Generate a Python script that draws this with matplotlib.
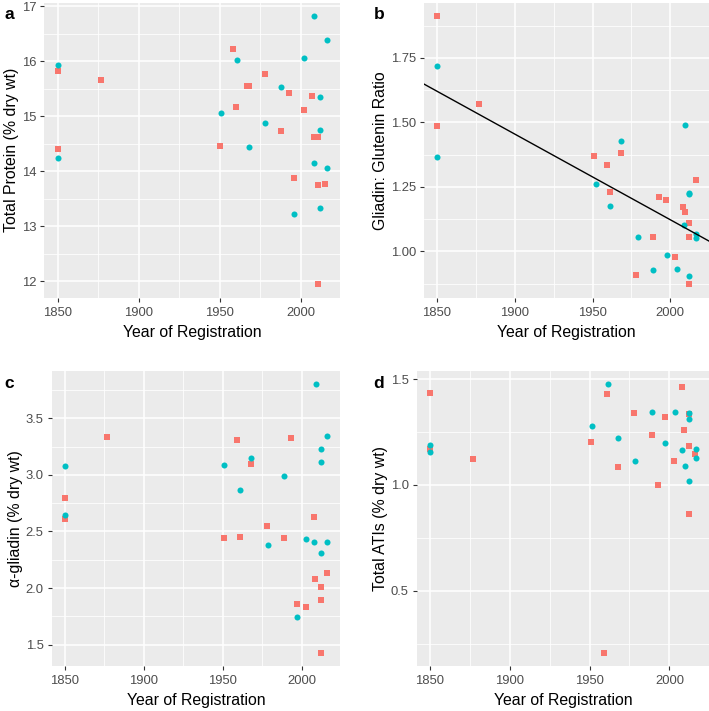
import numpy as np
import matplotlib
matplotlib.use("Agg")
import matplotlib.pyplot as plt

plt.rcParams["font.family"] = ["Liberation Sans", "DejaVu Sans"]

RED = "#F8766D"
CYAN = "#00BFC4"

# ---- panel a: total protein
a_red_year = [1850, 1850, 1877, 1950, 1958, 1960, 1967, 1968, 1978, 1988, 1993, 1996, 2002, 2007, 2008, 2011, 2011, 2015, 2011]
a_red_val = [15.82, 14.40, 15.66, 14.46, 16.23, 15.17, 15.55, 15.56, 15.78, 14.73, 15.42, 13.88, 15.11, 15.38, 14.62, 14.62, 13.75, 13.78, 11.95]
a_cyan_year = [1850, 1850, 1951, 1961, 1968, 1978, 1988, 1996, 2002, 2008, 2008, 2012, 2012, 2012, 2016, 2016]
a_cyan_val = [15.93, 14.25, 15.07, 16.03, 14.44, 14.89, 15.54, 13.23, 16.07, 16.82, 14.15, 15.36, 14.75, 13.33, 16.39, 14.07]

# ---- panel b: gliadin/glutenin ratio
b_red_year = [1850, 1850, 1877, 1951, 1959, 1968, 2016.5, 1961, 1993, 1997, 2008, 2009.5, 2012, 2012, 1989, 2003, 1978, 2012]
b_red_val = [1.911, 1.487, 1.570, 1.370, 1.333, 1.383, 1.278, 1.232, 1.210, 1.198, 1.173, 1.152, 1.110, 1.057, 1.057, 0.980, 0.910, 0.873]
b_cyan_year = [1850, 1850, 1968.5, 2009.5, 1952, 1961.5, 2012, 2012, 2008.5, 2016.5, 2016.5, 1979, 1998, 1989, 2004, 2012]
b_cyan_val = [1.720, 1.365, 1.428, 1.490, 1.260, 1.177, 1.224, 1.228, 1.103, 1.069, 1.053, 1.057, 0.986, 0.928, 0.932, 0.903]

# ---- panel c: alpha-gliadin
c_red_year = [1850, 1850, 1877, 1959, 1968, 1993, 2008, 1978, 1951, 1961, 1989, 2016, 2008.5, 2012, 2012, 1997, 2003, 2012]
c_red_val = [2.794, 2.612, 3.332, 3.306, 3.097, 3.330, 2.626, 2.544, 2.438, 2.450, 2.438, 2.135, 2.076, 2.006, 1.897, 1.858, 1.829, 1.429]
c_cyan_year = [1850, 1850, 1951, 1961, 1968, 1989, 2009, 2012, 2012, 2016, 1979, 2003, 2008, 2012, 2016, 1997]
c_cyan_val = [3.076, 2.647, 3.085, 2.868, 3.153, 2.992, 3.800, 3.230, 3.115, 3.345, 2.383, 2.430, 2.409, 2.306, 2.409, 1.744]

# ---- panel d: total ATIs
d_red_year = [1850, 1850, 1877, 1951, 1961, 1968, 1978, 1989, 1993, 1997, 2003, 2008, 2009, 2012, 2012, 2012, 2016, 1959]
d_red_val = [1.434, 1.170, 1.123, 1.204, 1.429, 1.085, 1.340, 1.236, 1.001, 1.322, 1.113, 1.462, 1.261, 1.336, 1.185, 0.865, 1.146, 0.208]
d_cyan_year = [1850, 1850, 1951.5, 1961.5, 1968, 1978.5, 1989, 1997.5, 2003.5, 2008, 2009.5, 2012.5, 2012.5, 2012.5, 2016.5, 2016.5]
d_cyan_val = [1.187, 1.158, 1.277, 1.475, 1.220, 1.113, 1.347, 1.200, 1.343, 1.163, 1.088, 1.338, 1.311, 1.017, 1.168, 1.127]

x_ticks = [1850, 1900, 1950, 2000]
x_minor = [1875, 1925, 1975]


def expand(vals, frac=0.05):
    lo, hi = min(vals), max(vals)
    pad = (hi - lo) * frac
    return lo - pad, hi + pad


def gg_axes(fig, rect, ry, rv, cy, cv, yticks, yminor, ylabel, fmt):
    ax = fig.add_axes(rect)
    ax.set_facecolor("#EBEBEB")
    for s in ax.spines.values():
        s.set_visible(False)
    ax.set_xlim(*expand(ry + cy))
    ax.set_ylim(*expand(rv + cv))
    for x in x_minor:
        ax.axvline(x, color="white", lw=0.55, zorder=0)
    for y in yminor:
        ax.axhline(y, color="white", lw=0.55, zorder=0)
    for x in x_ticks:
        ax.axvline(x, color="white", lw=1.1, zorder=0)
    for y in yticks:
        ax.axhline(y, color="white", lw=1.1, zorder=0)
    ax.set_xticks(x_ticks)
    ax.set_yticks(yticks)
    ax.set_yticklabels([fmt % t for t in yticks])
    ax.tick_params(colors="#333333", labelcolor="#4D4D4D", labelsize=9.4, length=2.8, width=0.8, pad=3)
    ax.tick_params(axis="x", pad=4)
    ax.scatter(ry, rv, marker="s", s=17, color=RED, linewidths=0, zorder=3)
    ax.scatter(cy, cv, marker="o", s=19, color=CYAN, linewidths=0, zorder=3)
    ax.set_xlabel("Year of Registration", fontsize=11.4, color="black", labelpad=4)
    ax.set_ylabel(ylabel, fontsize=11.4, color="black", labelpad=2)
    return ax


fig = plt.figure(figsize=(7.09, 7.11), dpi=100)

ax1 = gg_axes(fig, [0.0625, 0.5815, 0.417, 0.4143], a_red_year, a_red_val, a_cyan_year, a_cyan_val,
              [12, 13, 14, 15, 16, 17], [12.5, 13.5, 14.5, 15.5, 16.5], "Total Protein (% dry wt)", "%d")
ax2 = gg_axes(fig, [0.598, 0.5815, 0.402, 0.4143], b_red_year, b_red_val, b_cyan_year, b_cyan_val,
              [1.00, 1.25, 1.50, 1.75], [0.875, 1.125, 1.375, 1.625, 1.875], "Gliadin: Glutenin Ratio", "%.2f")
ax3 = gg_axes(fig, [0.0729, 0.0633, 0.4066, 0.4149], c_red_year, c_red_val, c_cyan_year, c_cyan_val,
              [1.5, 2.0, 2.5, 3.0, 3.5], [1.75, 2.25, 2.75, 3.25, 3.75], "α-gliadin (% dry wt)", "%.1f")
ax4 = gg_axes(fig, [0.5877, 0.0633, 0.4123, 0.4149], d_red_year, d_red_val, d_cyan_year, d_cyan_val,
              [0.5, 1.0, 1.5], [0.25, 0.75, 1.25], "Total ATIs (% dry wt)", "%.1f")

# linear trend on panel b (both groups)
yrs = np.array(b_red_year + b_cyan_year)
vals = np.array(b_red_val + b_cyan_val)
slope, icpt = np.polyfit(yrs, vals, 1)
xl = np.array(ax2.get_xlim())
ax2.plot(xl, icpt + slope * xl, color="black", lw=1.0, zorder=4)
ax2.set_xlim(*xl)

fig.text(0.006, 0.979, "a", fontsize=12.5, fontweight="bold", va="center")
fig.text(0.527, 0.979, "b", fontsize=12.5, fontweight="bold", va="center")
fig.text(0.006, 0.461, "c", fontsize=12.5, fontweight="bold", va="center")
fig.text(0.527, 0.461, "d", fontsize=12.5, fontweight="bold", va="center")

fig.savefig("out.png", dpi=100)
